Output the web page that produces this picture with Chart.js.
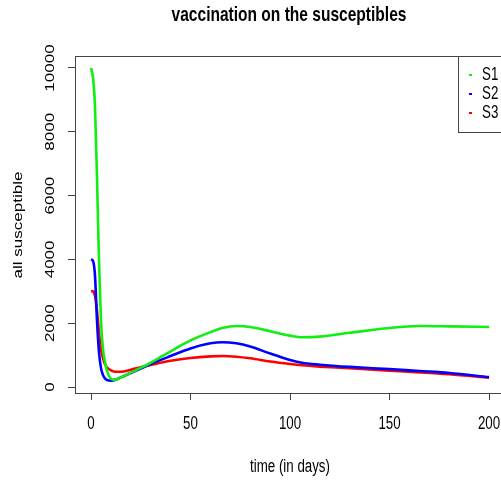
<!DOCTYPE html>
<html>
<head>
<meta charset="utf-8">
<script src="https://cdn.jsdelivr.net/npm/chart.js@4"></script>
<style>
  html, body { margin: 0; padding: 0; overflow: hidden; background: #fff; }
  #wrap { position: absolute; left: 0; top: 0; width: 520px; height: 480px; }
</style>
</head>
<body>
<div id="wrap"><canvas id="chart" width="520" height="480"></canvas></div>
<script>
// Data
const days = [0, 1, 2, 3, 4, 5, 6, 7, 8, 10, 12, 15, 20, 25, 30, 40, 50, 60, 66, 73, 80, 90, 100, 106, 115, 130, 150, 165, 180, 200];
const s1 = [10000, 9700, 8800, 6600, 4000, 2100, 1200, 800, 520, 260, 230, 300, 450, 600, 760, 1120, 1460, 1720, 1850, 1910, 1880, 1750, 1610, 1560, 1580, 1700, 1850, 1910, 1900, 1880];
const s2 = [4000, 3950, 3500, 2100, 1100, 600, 380, 270, 220, 200, 220, 300, 440, 580, 720, 970, 1210, 1370, 1405, 1370, 1270, 1050, 850, 760, 700, 630, 560, 500, 440, 310];
const s3 = [3000, 3000, 2850, 2400, 1700, 1200, 900, 720, 620, 520, 480, 480, 540, 620, 690, 820, 910, 960, 970, 950, 900, 800, 720, 680, 640, 590, 510, 460, 400, 290];
const seriesNames = ['S1', 'S2', 'S3'];
const seriesColors = ['#11ee11', '#0000ff', '#ff0000'];
const xTicks = [0, 50, 100, 150, 200];
const yTicks = [0, 2000, 4000, 6000, 8000, 10000];

const SX = 0.74; // picture is squeezed horizontally
const FONT = '"Liberation Sans", Arial, sans-serif';

function drawText(ctx, s, x, y, size, bold, rotated, align) {
    ctx.save();
    ctx.translate(x, y);
    if (rotated) {
        ctx.rotate(-Math.PI / 2);
        ctx.scale(1, SX);
    } else {
        ctx.scale(SX, 1);
    }
    ctx.font = (bold ? 'bold ' : '') + size + 'px ' + FONT;
    ctx.fillStyle = '#000';
    ctx.textAlign = align || 'center';
    ctx.textBaseline = 'middle';
    ctx.fillText(s, 0, 0);
    ctx.restore();
}

const decorations = {
    id: 'decorations',
    afterDraw(chart) {
        const ctx = chart.ctx;
        const a = chart.chartArea;
        const xs = chart.scales.x, ys = chart.scales.y;

        // box
        ctx.save();
        ctx.strokeStyle = '#444';
        ctx.lineWidth = 1;
        ctx.strokeRect(a.left + 0.5, a.top + 0.5, a.right - a.left, a.bottom - a.top);
        ctx.restore();

        // tick labels
        xTicks.forEach(v => drawText(ctx, String(v), xs.getPixelForValue(v), 424, 18, false, false));
        yTicks.forEach(v => drawText(ctx, String(v), 51, ys.getPixelForValue(v), 17, false, true));

        // titles
        drawText(ctx, 'vaccination on the susceptibles', (a.left + a.right) / 2 - 1, 15, 21, true, false);
        drawText(ctx, 'time (in days)', (a.left + a.right) / 2, 467, 18, false, false);
        drawText(ctx, 'all susceptible', 19, 225, 17, false, true);

        // legend
        const lx = 458, ly = a.top, lw = a.right - lx, lh = 76;
        ctx.save();
        ctx.fillStyle = '#fff';
        ctx.fillRect(lx, ly, lw, lh);
        ctx.strokeStyle = '#444';
        ctx.lineWidth = 1;
        ctx.strokeRect(lx + 0.5, ly + 0.5, lw, lh);
        seriesNames.forEach((name, i) => {
            const yy = ly + 19 + i * 19;
            ctx.strokeStyle = seriesColors[i];
            ctx.lineWidth = 2;
            ctx.beginPath();
            ctx.moveTo(469, yy);
            ctx.lineTo(472, yy);
            ctx.stroke();
            drawText(ctx, name, 482, yy, 18, false, false, 'left');
        });
        ctx.restore();
    }
};

function toPoints(vals) {
    return vals.map((v, i) => ({ x: days[i], y: v }));
}

const tickGrid = {
    display: true,
    drawOnChartArea: false,
    drawTicks: true,
    tickLength: 7,
    color: '#444'
};

new Chart(document.getElementById('chart'), {
    type: 'line',
    data: {
        datasets: [s1, s2, s3].map((vals, i) => ({
            label: seriesNames[i],
            data: toPoints(vals),
            borderColor: seriesColors[i],
            borderWidth: 2.6,
            pointRadius: 0,
            cubicInterpolationMode: 'monotone',
            fill: false
        }))
    },
    options: {
        responsive: false,
        animation: false,
        layout: { padding: { top: 56, right: 15, left: 0, bottom: 0 } },
        plugins: {
            legend: { display: false },
            tooltip: { enabled: false },
            title: { display: false }
        },
        scales: {
            x: {
                type: 'linear',
                min: -8.04,
                max: 208,
                afterBuildTicks: s => { s.ticks = xTicks.map(v => ({ value: v })); },
                afterFit: s => { s.height = 87; },
                ticks: { display: false },
                grid: tickGrid,
                border: { display: true, color: '#444' }
            },
            y: {
                type: 'linear',
                min: -188,
                max: 10376,
                afterBuildTicks: s => { s.ticks = yTicks.map(v => ({ value: v })); },
                afterFit: s => { s.width = 75; },
                ticks: { display: false },
                grid: tickGrid,
                border: { display: true, color: '#444' }
            }
        }
    },
    plugins: [decorations]
});
</script>
</body>
</html>
